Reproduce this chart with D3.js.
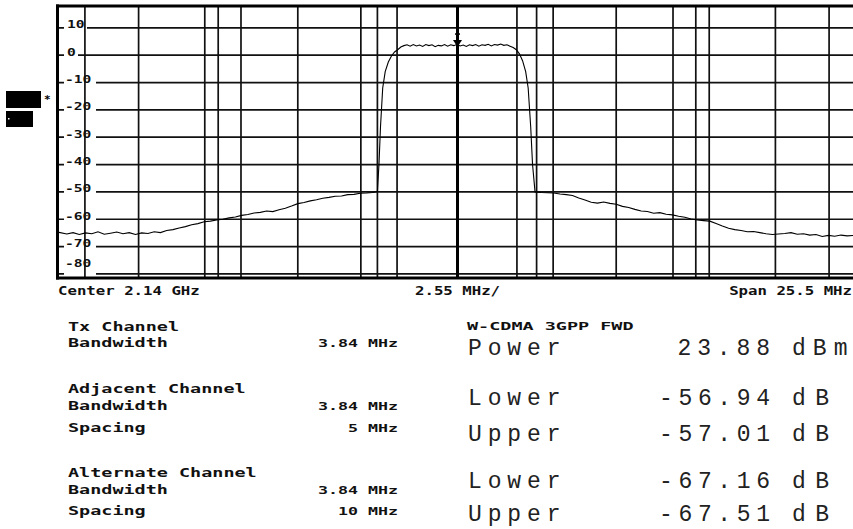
<!DOCTYPE html>
<html><head><meta charset="utf-8">
<script src="https://cdn.jsdelivr.net/npm/d3@7/dist/d3.min.js"></script>
<style>html,body{margin:0;padding:0;background:#fff;overflow:hidden}</style>
</head><body><svg id="c" width="853" height="529"></svg>
<script>
// ---------- data ----------
const traceFreq = [
 -12.75,-12.5,-12.3,-12.1,-11.9,-11.7,-11.5,-11.3,-11.1,-10.9,-10.7,-10.5,-10.3,-10.1,-9.9,-9.7,-9.5,
 -9.3,-9.1,-8.9,-8.7,-8.5,-8.3,-8.1,-7.9,-7.7,-7.5,-7.3,-7.1,-6.9,-6.7,-6.5,-6.3,-6.1,-5.9,-5.7,-5.5,
 -5.3,-5.1,-4.9,-4.7,-4.5,-4.3,-4.1,-3.9,-3.7,-3.5,-3.3,-3.1,-2.9,-2.7,-2.55,
 -2.5,-2.45,-2.38,-2.3,-2.2,-2.1,-2.0,-1.9,-1.8,-1.7,
 -1.6,-1.5,-1.4,-1.3,-1.2,-1.1,-1.0,-0.9,-0.8,-0.7,-0.6,-0.5,-0.4,-0.3,-0.2,-0.1,0.0,
 0.1,0.2,0.3,0.4,0.5,0.6,0.7,0.8,0.9,1.0,1.1,1.2,1.3,1.4,1.5,1.6,
 1.7,1.8,1.9,2.0,2.1,2.2,2.28,2.36,2.42,2.5,
 2.7,2.9,3.1,3.3,3.5,3.7,3.9,4.1,4.3,4.5,4.7,4.9,5.1,5.3,5.5,5.7,5.9,6.1,6.3,6.5,6.7,6.9,
 7.1,7.3,7.5,7.7,7.9,8.1,8.3,8.5,8.7,8.9,9.1,9.3,9.5,9.7,9.9,10.1,10.3,10.5,10.7,10.9,
 11.1,11.3,11.5,11.7,11.9,12.1,12.3,12.5,12.75
];
const traceLevel = [
 -64.8,-65.4,-64.9,-65.6,-65.0,-65.3,-64.6,-65.5,-65.1,-64.7,-65.3,-64.9,-65.6,-65.0,-65.2,-64.6,-64.9,
 -64.1,-63.8,-63.2,-62.7,-62.0,-61.6,-60.9,-60.7,-60.3,-60.0,-59.5,-59.2,-58.6,-58.3,-57.7,-57.5,-57.0,-57.2,-56.5,-56.0,
 -55.2,-54.3,-53.9,-53.3,-52.9,-52.3,-52.0,-51.6,-51.5,-51.0,-50.9,-50.5,-50.4,-50.2,-49.9,
 -40.0,-26.0,-12.0,-6.0,-2.5,-0.3,1.2,2.0,3.0,3.5,
 3.8,3.3,3.9,3.4,3.7,3.2,3.9,3.5,3.8,3.1,3.6,3.4,3.9,3.3,3.8,3.5,4.0,
 3.4,3.7,3.2,3.8,3.5,3.9,3.3,3.8,3.6,4.0,3.4,3.9,3.7,4.1,3.6,3.8,
 3.3,2.8,2.0,0.5,-2.0,-6.0,-12.0,-26.0,-40.0,-50.0,
 -50.2,-50.3,-50.4,-50.8,-51.0,-51.3,-52.2,-53.0,-53.8,-54.1,-53.7,-54.2,-54.5,-55.3,-55.7,-56.4,-57.0,-57.2,-57.8,-57.6,-58.2,-58.4,
 -58.9,-59.3,-59.9,-60.3,-60.5,-60.7,-61.6,-62.5,-63.3,-63.8,-64.1,-64.6,-64.5,-64.9,-65.3,-65.6,-65.4,-65.2,-64.9,-65.5,
 -65.3,-65.8,-65.6,-66.3,-65.9,-66.2,-65.8,-66.1,-65.9
];
const yTickValues = [10, 0, -10, -20, -30, -40, -50, -60, -70, -80];
const divisionFreqs = [-10.2, -7.65, -5.1, -2.55, 2.55, 5.1, 7.65, 10.2];
const channelEdges = [-11.92, -8.08, -6.92, -3.08, -1.92, 1.92, 3.08, 6.92, 8.08, 11.92];
const centerFreq = 0;
const markerFreq = 0;
const markerLevel = 3.9;
const footerLabels = ["Center 2.14 GHz", "2.55 MHz/", "Span 25.5 MHz"];
const setupLabels = ["Tx Channel", "Bandwidth", "Adjacent Channel", "Bandwidth", "Spacing", "Alternate Channel", "Bandwidth", "Spacing"];
const setupValues = ["", "3.84 MHz", "", "3.84 MHz", "5 MHz", "", "3.84 MHz", "10 MHz"];
const resultTitle = "W-CDMA 3GPP FWD";
const resultLabels = ["Power", "Lower", "Upper", "Lower", "Upper"];
const resultValues = ["23.88", "-56.94", "-57.01", "-67.16", "-67.51"];
const resultUnits = ["dBm", "dB", "dB", "dB", "dB"];

// ---------- layout ----------
const svg = d3.select("#c");
const x = d3.scaleLinear().domain([-12.75, 12.75]).range([59, 855]);
const y = d3.scaleLinear().domain([-81.5, 18]).range([278, 6]);
const yTop = y(18), yBot = y(-81.5);
const INK = "#111";
const bitmap = "'DejaVu Sans Mono', 'Liberation Mono', monospace";
const courier = "'Liberation Mono', 'DejaVu Sans Mono', monospace";

// horizontal grid
const gH = svg.append("g");
gH.selectAll("line").data(yTickValues).join("line")
  .attr("x1", 58).attr("x2", 853)
  .attr("y1", d => y(d)).attr("y2", d => y(d))
  .attr("stroke", INK).attr("stroke-width", 1.7);

// y labels with white gap
const gY = svg.append("g");
const yl = gY.selectAll("g").data(yTickValues).join("g");
yl.append("rect")
  .attr("x", 64).attr("y", d => y(d) - 3)
  .attr("width", d => String(d).length * 9 + 5).attr("height", 6)
  .attr("fill", "#fff");
yl.append("text")
  .attr("x", d => d >= 0 ? 67 : 65)
  .attr("y", d => y(d) + (d === -80 ? -7 : 0.5))
  .attr("font-family", bitmap).attr("font-weight", "bold").attr("font-size", 11)
  .attr("textLength", d => String(d).length * 8.8)
  .attr("lengthAdjust", "spacingAndGlyphs")
  .attr("fill", INK)
  .text(d => String(d));

// vertical lines
const gV = svg.append("g");
gV.selectAll("line.div").data(divisionFreqs.concat(channelEdges)).join("line")
  .attr("class", "div")
  .attr("x1", d => x(d)).attr("x2", d => x(d))
  .attr("y1", yTop).attr("y2", yBot)
  .attr("stroke", INK).attr("stroke-width", 1.7);
gV.append("line")
  .attr("x1", x(centerFreq) + 0.5).attr("x2", x(centerFreq) + 0.5)
  .attr("y1", yTop).attr("y2", yBot)
  .attr("stroke", "#000").attr("stroke-width", 3);

// frame
svg.append("line").attr("x1", 56).attr("x2", 853).attr("y1", yTop).attr("y2", yTop)
  .attr("stroke", "#000").attr("stroke-width", 3);
svg.append("line").attr("x1", 56).attr("x2", 853).attr("y1", yBot).attr("y2", yBot)
  .attr("stroke", "#000").attr("stroke-width", 3);
svg.append("line").attr("x1", 57.5).attr("x2", 57.5).attr("y1", yTop - 1.5).attr("y2", yBot + 1.5)
  .attr("stroke", "#000").attr("stroke-width", 3);

// trace
const pts = traceFreq.map((f, i) => [f, traceLevel[i]]);
svg.append("path")
  .attr("d", d3.line().x(d => x(d[0])).y(d => y(d[1]))(pts))
  .attr("fill", "none").attr("stroke", "#000").attr("stroke-width", 1.1);

// marker
const mx = x(markerFreq) + 0.5, my = y(markerLevel);
svg.append("path")
  .attr("d", `M${mx - 4.5},${my - 4.5} L${mx + 4.5},${my - 4.5} L${mx},${my + 2.5} Z`)
  .attr("fill", "#000");
svg.append("line").attr("x1", mx - 2.5).attr("x2", mx + 2.5).attr("y1", my - 10.5).attr("y2", my - 10.5)
  .attr("stroke", "#000").attr("stroke-width", 1.5);

// left status boxes
svg.append("rect").attr("x", 6).attr("y", 91).attr("width", 35).attr("height", 17).attr("fill", "#000");
svg.append("rect").attr("x", 6).attr("y", 111).attr("width", 27).attr("height", 16).attr("fill", "#000");
svg.append("rect").attr("x", 8).attr("y", 118).attr("width", 1.5).attr("height", 1.5).attr("fill", "#fff");
svg.append("text").attr("x", 44).attr("y", 103).attr("font-family", bitmap).attr("font-weight", "bold")
  .attr("font-size", 11).attr("fill", "#000").text("*");

// footer
const fX = [58, 415, 852];
const fA = ["start", "start", "end"];
svg.selectAll("text.foot").data(footerLabels).join("text")
  .attr("class", "foot")
  .attr("x", (d, i) => fX[i]).attr("y", 295)
  .attr("text-anchor", (d, i) => fA[i])
  .attr("font-family", bitmap).attr("font-weight", "bold").attr("font-size", 11.5)
  .attr("textLength", d => d.length * 9.45).attr("lengthAdjust", "spacingAndGlyphs")
  .attr("fill", INK).text(d => d);

// setup table
const sY = [331, 347, 393, 410, 431.5, 476.5, 494, 515];
svg.selectAll("text.sl").data(setupLabels).join("text")
  .attr("class", "sl")
  .attr("x", 68).attr("y", (d, i) => sY[i])
  .attr("font-family", bitmap).attr("font-weight", "bold").attr("font-size", 12)
  .attr("textLength", d => d.length * 11.1).attr("lengthAdjust", "spacingAndGlyphs")
  .attr("fill", INK).text(d => d);
svg.selectAll("text.sv").data(setupValues).join("text")
  .attr("class", "sv")
  .attr("x", 398).attr("y", (d, i) => sY[i])
  .attr("text-anchor", "end")
  .attr("font-family", bitmap).attr("font-weight", "bold").attr("font-size", 11)
  .attr("textLength", d => Math.max(1, d.length * 10)).attr("lengthAdjust", "spacingAndGlyphs")
  .attr("fill", INK).text(d => d);

// results
svg.append("text").attr("x", 467).attr("y", 330)
  .attr("font-family", bitmap).attr("font-weight", "bold").attr("font-size", 10)
  .attr("textLength", resultTitle.length * 11.1).attr("lengthAdjust", "spacingAndGlyphs")
  .attr("fill", INK).text(resultTitle);
const rY = [355, 405, 441, 488, 520.5];
svg.selectAll("text.rl").data(resultLabels).join("text")
  .attr("class", "rl")
  .attr("x", 468).attr("y", (d, i) => rY[i])
  .attr("font-family", courier).attr("font-size", 23)
  .attr("textLength", d => d.length * 18.5).attr("lengthAdjust", "spacing")
  .attr("fill", "#222").text(d => d);
svg.selectAll("text.rv").data(resultValues).join("text")
  .attr("class", "rv")
  .attr("x", 770).attr("y", (d, i) => rY[i])
  .attr("text-anchor", "end")
  .attr("font-family", courier).attr("font-size", 23)
  .attr("textLength", d => d.length * 18.5).attr("lengthAdjust", "spacing")
  .attr("fill", "#222").text(d => d);
svg.selectAll("text.ru").data(resultUnits).join("text")
  .attr("class", "ru")
  .attr("x", 792).attr("y", (d, i) => rY[i])
  .attr("font-family", courier).attr("font-size", 23)
  .attr("textLength", d => d.length * 18.5).attr("lengthAdjust", "spacing")
  .attr("fill", "#222").text(d => d);
</script></body></html>
